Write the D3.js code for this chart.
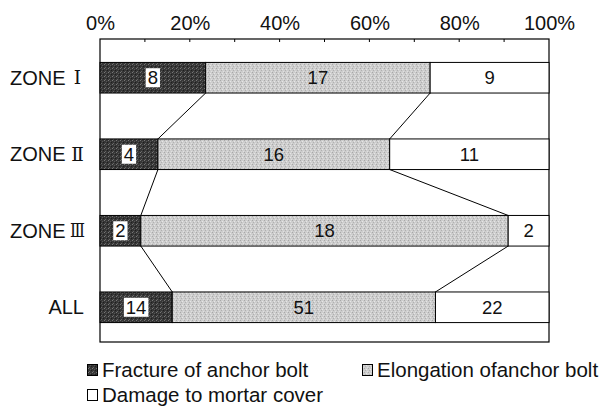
<!DOCTYPE html>
<html><head><meta charset="utf-8">
<script src="https://cdn.jsdelivr.net/npm/d3@7"></script>
<style>body{margin:0;background:#fff}svg{display:block}</style>
</head><body>
<svg id="c" width="606" height="406"></svg>
<script>
const categories = ["ZONE Ⅰ", "ZONE Ⅱ", "ZONE Ⅲ", "ALL"];
const catBase = ["ZONE", "ZONE", "ZONE", "ALL"];
const catNum = ["Ⅰ", "Ⅱ", "Ⅲ", ""];
const seriesNames = ["Fracture of anchor bolt", "Elongation ofanchor bolt", "Damage to mortar cover"];
const fracture = [8, 4, 2, 14];
const elongation = [17, 16, 18, 51];
const damage = [9, 11, 2, 22];
const tickValues = [0, 0.2, 0.4, 0.6, 0.8, 1.0];

const svg = d3.select("#c");
const font = "'Liberation Sans', Arial, Helvetica, sans-serif";
const L = 100, R = 549, T = 39, B = 342;
const x = d3.scaleLinear().domain([0, 1]).range([L, R]);
const y = d3.scaleBand().domain(categories).range([41, 344]).paddingInner(0.6).paddingOuter(0.28);

// pattern textures
const defs = svg.append("defs");
function noisePattern(id, base, dots) {
  const p = defs.append("pattern").attr("id", id).attr("patternUnits", "userSpaceOnUse").attr("width", 4).attr("height", 4);
  p.append("rect").attr("width", 4).attr("height", 4).attr("fill", base);
  dots.forEach(([dx, dy, c]) => p.append("rect").attr("x", dx).attr("y", dy).attr("width", 1).attr("height", 1).attr("fill", c));
}
noisePattern("pDark", "#363636", [[0,0,"#777"],[2,1,"#555"],[1,3,"#666"],[3,2,"#1e1e1e"]]);
noisePattern("pGray", "#cdcdcd", [[0,0,"#a8a8a8"],[2,1,"#e6e6e6"],[1,2,"#b0b0b0"],[3,3,"#e0e0e0"]]);
const fills = ["url(#pDark)", "url(#pGray)", "#ffffff"];

const rows = categories.map((c, i) => {
  const vals = [fracture[i], elongation[i], damage[i]];
  const tot = d3.sum(vals);
  let acc = 0;
  const segs = vals.map((v, k) => { const s = {k, v, x0: acc / tot, x1: (acc + v) / tot}; acc += v; return s; });
  return {c, i, segs};
});

// frame
svg.append("rect").attr("x", L).attr("y", T).attr("width", R - L).attr("height", B - T)
  .attr("fill", "none").attr("stroke", "#000").attr("stroke-width", 1.2);

// top axis
const axis = d3.axisTop(x).tickValues(tickValues).tickFormat(d3.format(".0%")).tickSize(0).tickPadding(9);
const ag = svg.append("g").attr("transform", `translate(0,${T})`).call(axis);
ag.select(".domain").remove();
ag.selectAll("text").attr("font-family", font).attr("font-size", 20).attr("fill", "#111");
// minor inward ticks every 10%
svg.append("g").selectAll("line").data(d3.range(1, 10).map(d => d / 10)).join("line")
  .attr("x1", d => x(d)).attr("x2", d => x(d)).attr("y1", T).attr("y2", T + 3)
  .attr("stroke", "#000").attr("stroke-width", 1);

// connector lines
for (let i = 0; i < rows.length - 1; i++) {
  [0, 1].forEach(k => {
    svg.append("line")
      .attr("x1", x(rows[i].segs[k].x1)).attr("y1", y(rows[i].c) + y.bandwidth())
      .attr("x2", x(rows[i + 1].segs[k].x1)).attr("y2", y(rows[i + 1].c))
      .attr("stroke", "#000").attr("stroke-width", 1);
  });
}

// bars
const g = svg.append("g");
rows.forEach(r => {
  r.segs.forEach(s => {
    g.append("rect").attr("x", x(s.x0)).attr("y", y(r.c)).attr("width", x(s.x1) - x(s.x0)).attr("height", y.bandwidth())
      .attr("fill", fills[s.k]).attr("stroke", "#000").attr("stroke-width", 1);
  });
  r.segs.forEach(s => {
    const cx = (x(s.x0) + x(s.x1)) / 2, cy = y(r.c) + y.bandwidth() / 2;
    const t = g.append("text").attr("x", cx).attr("y", cy).attr("dy", "0.36em").attr("text-anchor", "middle")
      .attr("font-family", font).attr("font-size", 18.5).attr("fill", "#111").text(s.v);
    if (s.k === 0) {
      const bb = t.node().getBBox();
      g.insert("rect", () => t.node()).attr("x", bb.x - 2).attr("y", cy - 9.5).attr("width", bb.width + 4).attr("height", 19).attr("fill", "#fff");
    }
  });
});

// category labels: word left-aligned, numeral centred in a fixed cell
rows.forEach((r, i) => {
  const cy = y(r.c) + y.bandwidth() / 2;
  if (catNum[i]) {
    svg.append("text").attr("x", 10).attr("y", cy).attr("dy", "0.36em")
      .attr("font-family", font).attr("font-size", 20).attr("fill", "#111").text(catBase[i]);
    const n = svg.append("text").attr("x", 77.5).attr("y", cy).attr("dy", "0.36em").attr("text-anchor", "middle")
      .attr("font-family", "'DejaVu Serif', serif").attr("font-size", 18.5).attr("fill", "#111").text(catNum[i]);
    const w = n.node().getComputedTextLength();
    if (w > 15) n.attr("textLength", 15).attr("lengthAdjust", "spacingAndGlyphs");
  } else {
    svg.append("text").attr("x", 84).attr("y", cy).attr("dy", "0.36em").attr("text-anchor", "end")
      .attr("font-family", font).attr("font-size", 20).attr("fill", "#111").text(catBase[i]);
  }
});

// legend
const leg = [
  {k: 0, x: 87, y: 370},
  {k: 1, x: 362, y: 370},
  {k: 2, x: 87, y: 395}
];
leg.forEach(l => {
  svg.append("rect").attr("x", l.x + 0.5).attr("y", l.y - 5.5).attr("width", 10).attr("height", 11)
    .attr("fill", fills[l.k]).attr("stroke", "#000").attr("stroke-width", 1);
  svg.append("text").attr("x", l.x + 15).attr("y", l.y).attr("dy", "0.36em")
    .attr("font-family", font).attr("font-size", 20.5).attr("fill", "#111").text(seriesNames[l.k]);
});
</script>
</body></html>
